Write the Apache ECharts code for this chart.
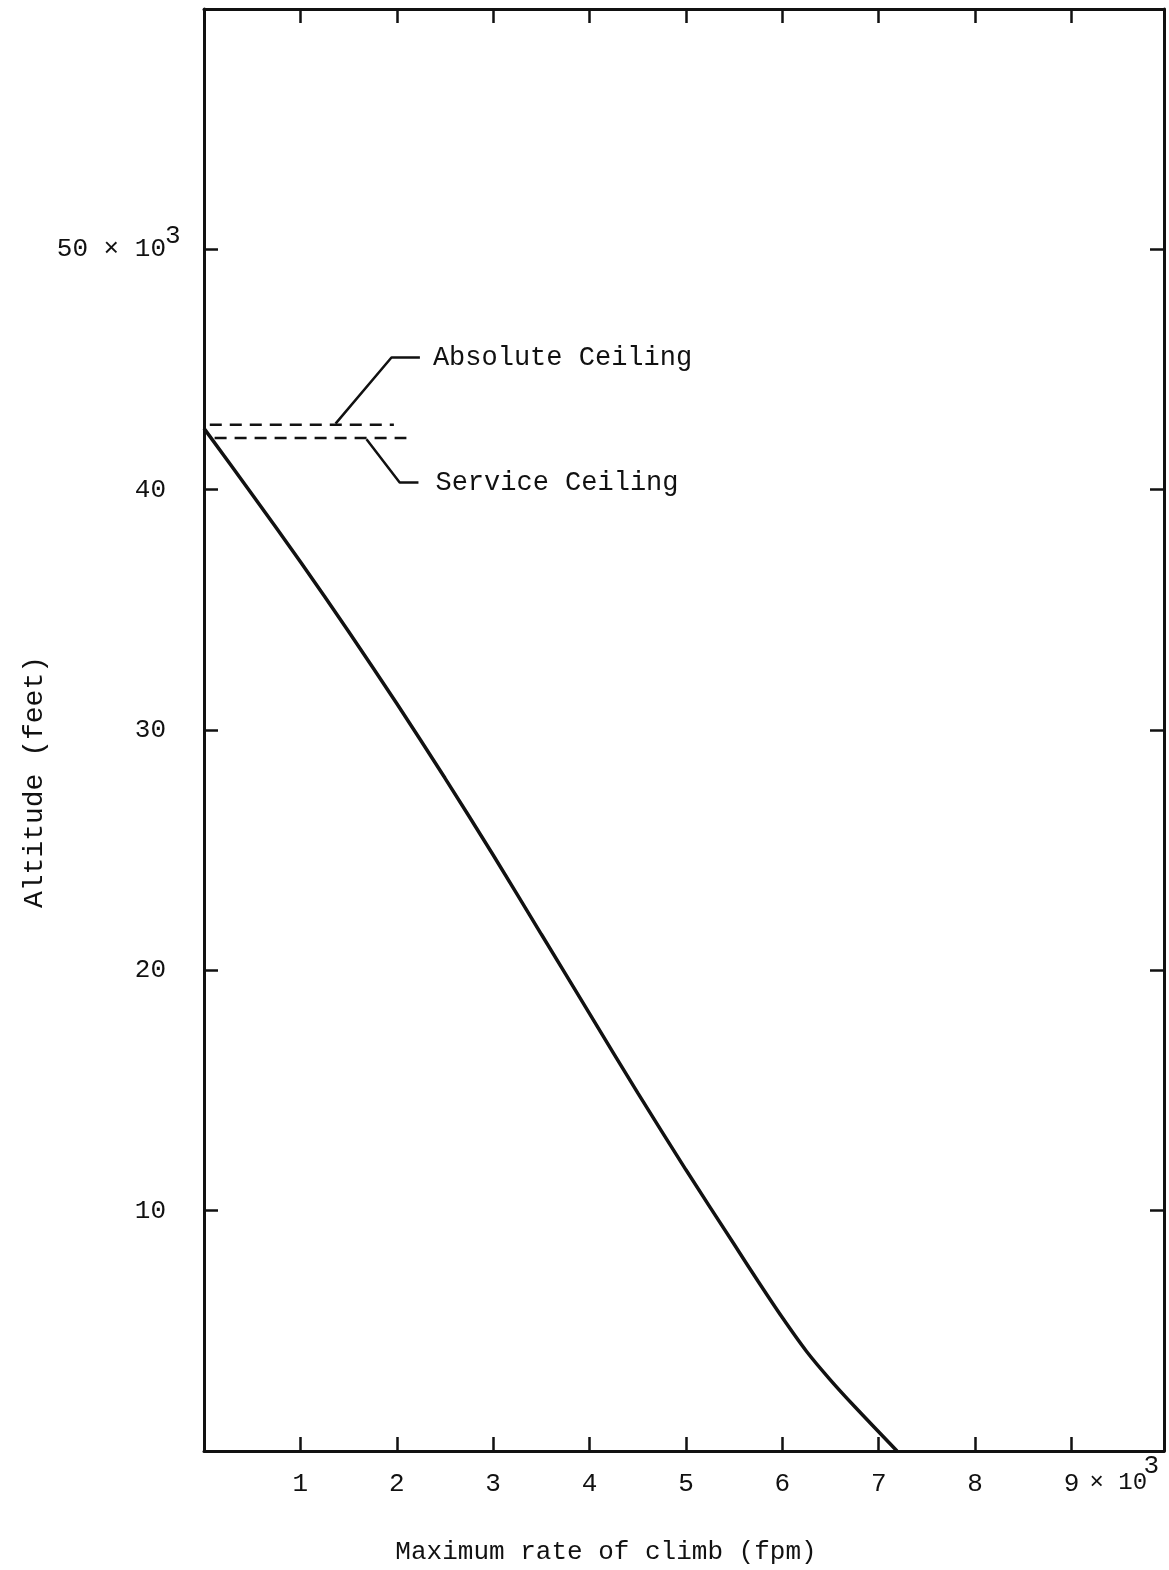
<!DOCTYPE html>
<html>
<head>
<meta charset="utf-8">
<script src="https://cdn.jsdelivr.net/npm/echarts@6/dist/echarts.min.js"></script>
<style>
  html, body { margin: 0; padding: 0; background: #ffffff; }
  #chart { width: 1169px; height: 1570px; }
</style>
</head>
<body>
<div id="chart"></div>
<script>
// Maximum rate of climb (x 10^3 fpm) against altitude (x 10^3 ft)
const climbRate = [0, 0.5, 1.0, 1.5, 2.0, 2.5, 3.0, 3.5, 4.0, 4.5, 5.0, 5.5, 5.75, 6.0, 6.25, 6.5, 6.75, 7.19];
const altitude  = [42.55, 39.8, 37.0, 34.1, 31.1, 28.0, 24.8, 21.5, 18.2, 14.9, 11.7, 8.6, 7.05, 5.55, 4.15, 2.95, 1.85, 0];

// Ceilings (x 10^3 ft) and the climb-rate span their dashed lines cover
const absoluteCeiling = 42.7;
const serviceCeiling = 42.15;
const absoluteCeilingSpan = [0.06, 1.97];
const serviceCeilingSpan = [0.11, 2.1];

// Leader lines from the ceiling lines to their captions
const absoluteLeader = [[1.365, 42.75], [1.945, 45.5], [2.24, 45.5]];
const serviceLeader = [[1.686, 42.1], [2.03, 40.3], [2.225, 40.3]];
const absoluteCaption = 'Absolute Ceiling';
const serviceCaption = 'Service Ceiling';

// Axis ranges, tick labels and titles
const xRange = [0, 9.96];
const yRange = [0, 60];
const xTickLabels = ['1', '2', '3', '4', '5', '6', '7', '8', '9'];
const yTickLabels = ['10', '20', '30', '40', '50 × 10'];
const xTitle = 'Maximum rate of climb (fpm)';
const yTitle = 'Altitude (feet)';

const FONT = 'Liberation Mono';
const INK = '#111111';

const chart = echarts.init(document.getElementById('chart'), null, { renderer: 'canvas' });

const curve = climbRate.map((x, i) => [x, altitude[i]]);

function captionLabel(caption, distance) {
  return {
    show: true,
    distance: distance,
    formatter: caption,
    color: INK,
    fontFamily: FONT,
    fontSize: 27
  };
}

function isWhole(v) { return Math.abs(v - Math.round(v)) < 1e-6; }

const frameLine = { show: true, onZero: false, lineStyle: { color: INK, width: 3 } };
const innerTick = { show: true, inside: true, length: 14, lineStyle: { color: INK, width: 2.5 } };

const option = {
  animation: false,
  backgroundColor: '#ffffff',
  grid: { left: 204, right: 5, top: 9, bottom: 119, containLabel: false },
  xAxis: [
    {
      type: 'value', position: 'bottom',
      min: xRange[0], max: xRange[1], interval: 1,
      axisLine: frameLine, axisTick: innerTick, splitLine: { show: false },
      axisLabel: {
        margin: 20, color: INK, fontFamily: FONT, fontSize: 26,
        showMinLabel: false, showMaxLabel: false,
        formatter: v => (isWhole(v) && v >= 1 && v <= xTickLabels.length) ? xTickLabels[Math.round(v) - 1] : ''
      }
    },
    {
      type: 'value', position: 'top',
      min: xRange[0], max: xRange[1], interval: 1,
      axisLine: frameLine, axisTick: innerTick, splitLine: { show: false },
      axisLabel: { show: false }
    }
  ],
  yAxis: [
    {
      type: 'value', position: 'left',
      min: yRange[0], max: yRange[1], interval: 10,
      axisLine: frameLine, axisTick: innerTick, splitLine: { show: false },
      axisLabel: {
        margin: 38, color: INK, fontFamily: FONT, fontSize: 26,
        showMinLabel: false, showMaxLabel: false,
        formatter: v => {
          const k = Math.round(v / 10);
          return (k >= 1 && k <= yTickLabels.length) ? yTickLabels[k - 1] : '';
        }
      }
    },
    {
      type: 'value', position: 'right',
      min: yRange[0], max: yRange[1], interval: 10,
      axisLine: frameLine, axisTick: innerTick, splitLine: { show: false },
      axisLabel: { show: false }
    }
  ],
  series: [
    {
      name: 'Maximum rate of climb',
      type: 'line',
      data: curve,
      smooth: 0.3,
      symbol: 'none',
      lineStyle: { color: INK, width: 3.5 },
      z: 5
    },
    {
      name: 'Absolute ceiling',
      type: 'line',
      data: absoluteCeilingSpan.map(x => [x, absoluteCeiling]),
      symbol: 'none',
      lineStyle: { color: INK, width: 2.5, type: [12, 8] }
    },
    {
      name: 'Service ceiling',
      type: 'line',
      data: serviceCeilingSpan.map(x => [x, serviceCeiling]),
      symbol: 'none',
      lineStyle: { color: INK, width: 2.5, type: [12, 8] }
    },
    {
      name: 'Absolute ceiling leader',
      type: 'line',
      data: absoluteLeader,
      symbol: 'none',
      lineStyle: { color: INK, width: 2.5 },
      endLabel: captionLabel(absoluteCaption, 13)
    },
    {
      name: 'Service ceiling leader',
      type: 'line',
      data: serviceLeader,
      symbol: 'none',
      lineStyle: { color: INK, width: 2.5 },
      endLabel: captionLabel(serviceCaption, 17)
    }
  ]
};

chart.setOption(option);

// Scale factor "× 10³" next to the last tick label on each axis, and the axis titles
const nine = chart.convertToPixel({ xAxisIndex: 0 }, 9);
const xAxisY = chart.convertToPixel({ yAxisIndex: 0 }, 0);
const fifty = chart.convertToPixel({ yAxisIndex: 0 }, 50);
const yAxisX = chart.convertToPixel({ xAxisIndex: 0 }, 0);
const labelMidY = xAxisY + 20 + 13;
const textStyle = { fill: INK, fontFamily: FONT };

chart.setOption({
  graphic: [
    {
      type: 'text', left: nine + 18, top: labelMidY - 13,
      style: Object.assign({ text: '× 10', fontSize: 24 }, textStyle)
    },
    {
      type: 'text', left: nine + 72, top: labelMidY - 31,
      style: Object.assign({ text: '3', fontSize: 26 }, textStyle)
    },
    {
      type: 'text', left: yAxisX - 39, top: fifty - 26,
      style: Object.assign({ text: '3', fontSize: 26 }, textStyle)
    },
    {
      type: 'text', x: 606, y: 1552,
      style: Object.assign({ text: xTitle, fontSize: 26, align: 'center', verticalAlign: 'middle' }, textStyle)
    },
    {
      type: 'text', x: 35, y: 782, rotation: Math.PI / 2,
      style: Object.assign({ text: yTitle, fontSize: 28, align: 'center', verticalAlign: 'middle' }, textStyle)
    }
  ]
});
</script>
</body>
</html>
